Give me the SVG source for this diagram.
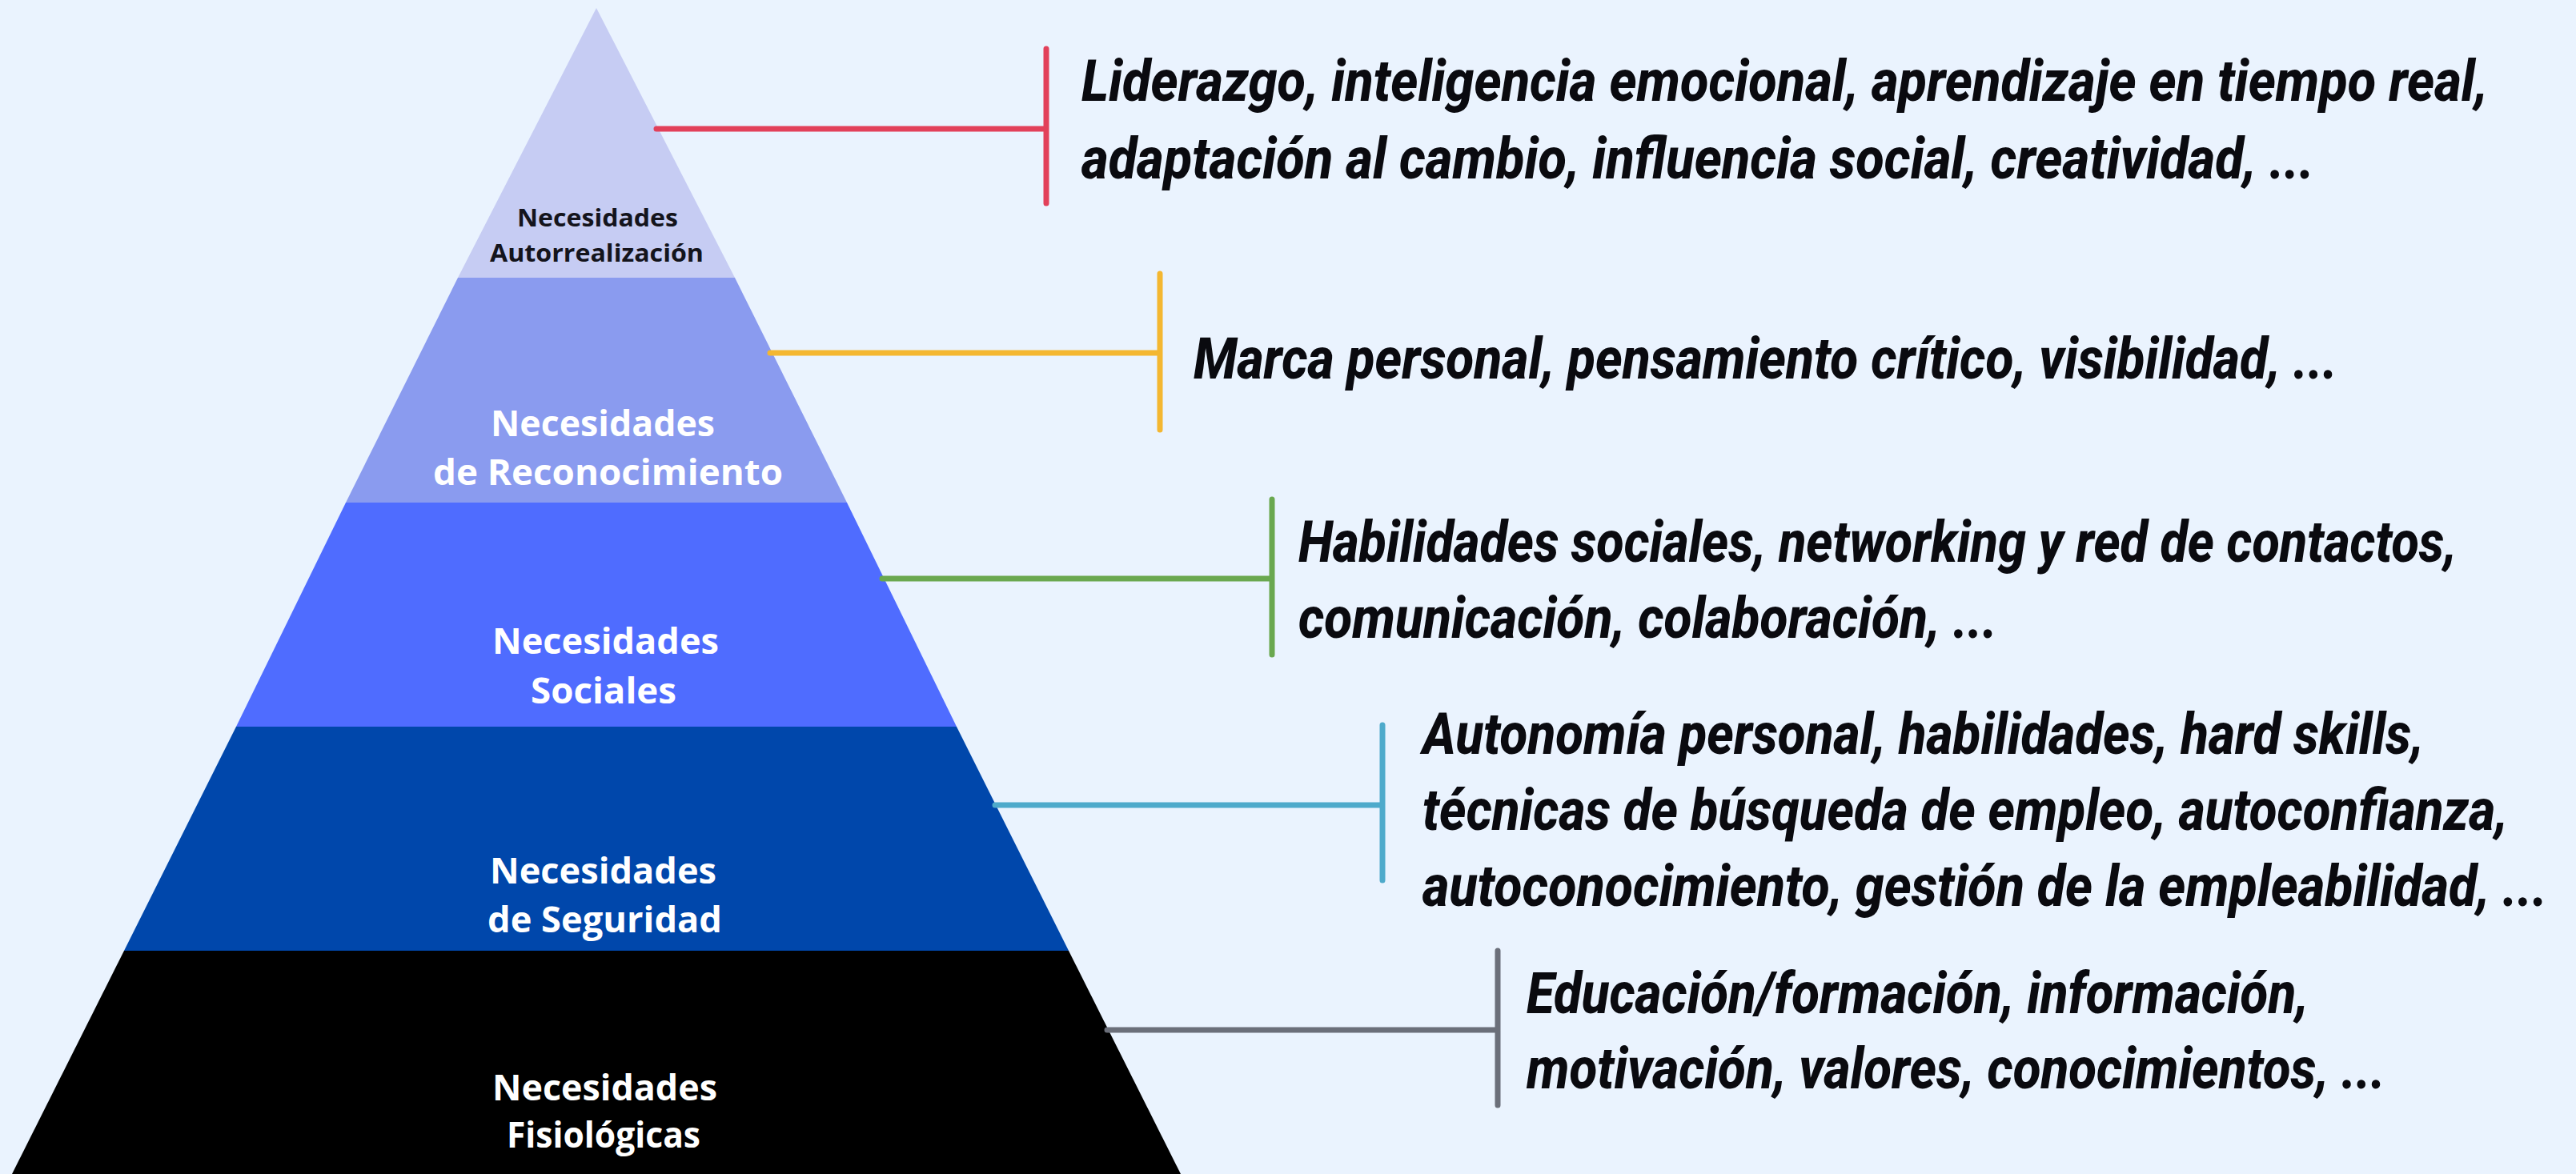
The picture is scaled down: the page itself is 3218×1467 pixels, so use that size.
<svg xmlns="http://www.w3.org/2000/svg" width="3218" height="1467" viewBox="0 0 3218 1467">
<style>
.lbl{font-family:"Open Sans","Liberation Sans",sans-serif;font-weight:700;fill:#ffffff}
.lbl-dark{fill:#14141c}
.txt{font-family:Roboto,"Liberation Sans",sans-serif;font-weight:800;font-style:italic;font-size:72px;fill:#0a0a0f}
.conn{fill:none;stroke-width:7;stroke-linecap:round}
</style>
<rect width="3218" height="1467" fill="#eaf3fe"/>
<g id="layer-autorrealizacion">
<polygon points="745,10 918,347 572,347" fill="#c6ccf3"/>
<text class="lbl lbl-dark" font-size="31" x="646" y="283" textLength="201" lengthAdjust="spacingAndGlyphs">Necesidades</text>
<text class="lbl lbl-dark" font-size="31" x="612" y="327" textLength="267" lengthAdjust="spacingAndGlyphs">Autorrealización</text>
</g>
<g id="layer-reconocimiento">
<polygon points="572,347 918,347 1058,628 432,628" fill="#8a9bef"/>
<text class="lbl" font-size="45" x="613" y="545" textLength="280" lengthAdjust="spacingAndGlyphs">Necesidades</text>
<text class="lbl" font-size="45" x="541" y="606" textLength="437" lengthAdjust="spacingAndGlyphs">de Reconocimiento</text>
</g>
<g id="layer-sociales">
<polygon points="432,628 1058,628 1195,908 295,908" fill="#4f6cff"/>
<text class="lbl" font-size="45" x="615" y="817" textLength="283" lengthAdjust="spacingAndGlyphs">Necesidades</text>
<text class="lbl" font-size="45" x="663" y="879" textLength="182" lengthAdjust="spacingAndGlyphs">Sociales</text>
</g>
<g id="layer-seguridad">
<polygon points="295,908 1195,908 1335,1188 155,1188" fill="#0047ab"/>
<text class="lbl" font-size="45" x="612" y="1104" textLength="283" lengthAdjust="spacingAndGlyphs">Necesidades</text>
<text class="lbl" font-size="45" x="609" y="1165" textLength="293" lengthAdjust="spacingAndGlyphs">de Seguridad</text>
</g>
<g id="layer-fisiologicas">
<polygon points="155,1188 1335,1188 1475,1467 15,1467" fill="#000000"/>
<text class="lbl" font-size="45" x="615" y="1375" textLength="281" lengthAdjust="spacingAndGlyphs">Necesidades</text>
<text class="lbl" font-size="45" x="633" y="1434" textLength="242" lengthAdjust="spacingAndGlyphs">Fisiológicas</text>
</g>
<g id="connectors">
<path class="conn" stroke="#e2405a" d="M820,161 H1307 M1307,61 V254"/>
<path class="conn" stroke="#f4b731" d="M962,441 H1449 M1449,342 V537"/>
<path class="conn" stroke="#6aa84f" d="M1102,723 H1589 M1589,624 V818"/>
<path class="conn" stroke="#4eaacb" d="M1243,1006 H1727 M1727,906 V1100"/>
<path class="conn" stroke="#6b6f7a" d="M1383,1287 H1871 M1871,1188 V1381"/>
</g>
<g id="text-autorrealizacion">
<text class="txt" transform="translate(1351,126) scale(0.78,1)" textLength="2252.6" lengthAdjust="spacingAndGlyphs">Liderazgo, inteligencia emocional, aprendizaje en tiempo real,</text>
<text class="txt" transform="translate(1351,223) scale(0.78,1)" textLength="1974.4" lengthAdjust="spacingAndGlyphs">adaptación al cambio, influencia social, creatividad, ...</text>
</g>
<g id="text-reconocimiento">
<text class="txt" transform="translate(1491,473) scale(0.78,1)" textLength="1832.1" lengthAdjust="spacingAndGlyphs">Marca personal, pensamiento crítico, visibilidad, ...</text>
</g>
<g id="text-sociales">
<text class="txt" transform="translate(1622,702) scale(0.78,1)" textLength="1855.1" lengthAdjust="spacingAndGlyphs">Habilidades sociales, networking y red de contactos,</text>
<text class="txt" transform="translate(1622,797) scale(0.78,1)" textLength="1119.2" lengthAdjust="spacingAndGlyphs">comunicación, colaboración, ...</text>
</g>
<g id="text-seguridad">
<text class="txt" transform="translate(1777,942) scale(0.78,1)" textLength="1603.8" lengthAdjust="spacingAndGlyphs">Autonomía personal, habilidades, hard skills,</text>
<text class="txt" transform="translate(1777,1037) scale(0.78,1)" textLength="1738.5" lengthAdjust="spacingAndGlyphs">técnicas de búsqueda de empleo, autoconfianza,</text>
<text class="txt" transform="translate(1777,1132) scale(0.78,1)" textLength="1801.3" lengthAdjust="spacingAndGlyphs">autoconocimiento, gestión de la empleabilidad, ...</text>
</g>
<g id="text-fisiologicas">
<text class="txt" transform="translate(1907,1266) scale(0.78,1)" textLength="1252.6" lengthAdjust="spacingAndGlyphs">Educación/formación, información,</text>
<text class="txt" transform="translate(1907,1360) scale(0.78,1)" textLength="1375.6" lengthAdjust="spacingAndGlyphs">motivación, valores, conocimientos, ...</text>
</g>
</svg>
